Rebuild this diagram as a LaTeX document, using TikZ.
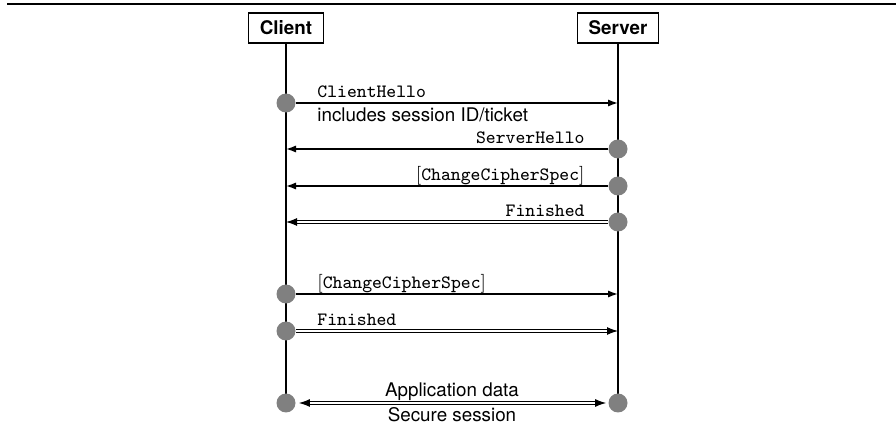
\documentclass[tikz,border=0pt]{standalone}
\usepackage{fontspec}
\setsansfont{TeX Gyre Heros}
\usetikzlibrary{arrows.meta}
\begin{document}
\begin{tikzpicture}[x=0.5pt,y=-0.5pt,
  actor/.style={draw, line width=0.7pt, inner xsep=5.6pt, inner ysep=0pt, minimum height=15pt,
    font=\sffamily\bfseries\fontsize{9.4}{11}\selectfont},
  life/.style={line width=0.75pt},
  dot/.style={circle, fill=black!50, minimum size=9.5pt, inner sep=0pt},
  msg/.style={line width=0.8pt, -{Latex[length=5pt,width=3.6pt]}},
  dmsg/.style={line width=0.55pt, double, double distance=0.8pt, -{Latex[length=5.5pt,width=4pt]}},
  dmsgb/.style={line width=0.55pt, double, double distance=0.8pt, {Latex[length=5.5pt,width=4pt]}-{Latex[length=5.5pt,width=4pt]}},
  tt/.style={inner sep=0pt, font=\ttfamily\fontsize{9.4}{11}\selectfont},
  sf/.style={inner sep=0pt, font=\sffamily\fontsize{9.4}{11}\selectfont},
  rule/.style={line width=0.7pt}]
\useasboundingbox (0,0) rectangle (896,433);
% top rule
\coordinate (r1) at (7,4);
\coordinate (r2) at (896,4);
\draw[rule] (r1) -- (r2);
% actors
\node[actor] (client) at (286,28) {Client};
\node[actor] (server) at (618,28) {Server};
% lifelines
\coordinate (cEnd) at (286,403);
\coordinate (sEnd) at (618,403);
\draw[life] (client.south) -- (cEnd);
\draw[life] (server.south) -- (sEnd);
% dots
\node[dot] (d1) at (286,103) {};
\node[dot] (d2) at (618,149) {};
\node[dot] (d3) at (618,186) {};
\node[dot] (d4) at (618,222) {};
\node[dot] (d5) at (286,294) {};
\node[dot] (d6) at (286,331) {};
\node[dot] (d7) at (286,403) {};
\node[dot] (d8) at (618,403) {};
% targets
\coordinate (t1) at (618,103);
\coordinate (t2) at (286,149);
\coordinate (t3) at (286,186);
\coordinate (t4) at (286,222);
\coordinate (t5) at (618,294);
\coordinate (t6) at (618,331);
% messages
\draw[msg] (d1) -- (t1);
\draw[msg] (d2) -- (t2);
\draw[msg] (d3) -- (t3);
\draw[dmsg] (d4) -- (t4);
\draw[msg] (d5) -- (t5);
\draw[dmsg] (d6) -- (t6);
\draw[dmsgb, shorten <=1.5pt, shorten >=1pt] (d7) -- (d8);
% labels
\node[tt, anchor=base west] (l1) at (317,98) {ClientHello};
\node[sf, anchor=north west] (l1b) at (317,107) {includes session ID/ticket};
\node[tt, anchor=base east] (l2) at (585,144) {ServerHello};
\node[tt, anchor=base east] (l3) at (585,181) {{\rmfamily[}ChangeCipherSpec{\rmfamily]}};
\node[tt, anchor=base east] (l4) at (585,217) {Finished};
\node[tt, anchor=base west] (l5) at (317,289) {{\rmfamily[}ChangeCipherSpec{\rmfamily]}};
\node[tt, anchor=base west] (l6) at (317,326) {Finished};
\node[sf, anchor=base] (l7) at (452,396) {Application data};
\node[sf, anchor=north] (l8) at (452,407) {Secure session};
\end{tikzpicture}
\end{document}
